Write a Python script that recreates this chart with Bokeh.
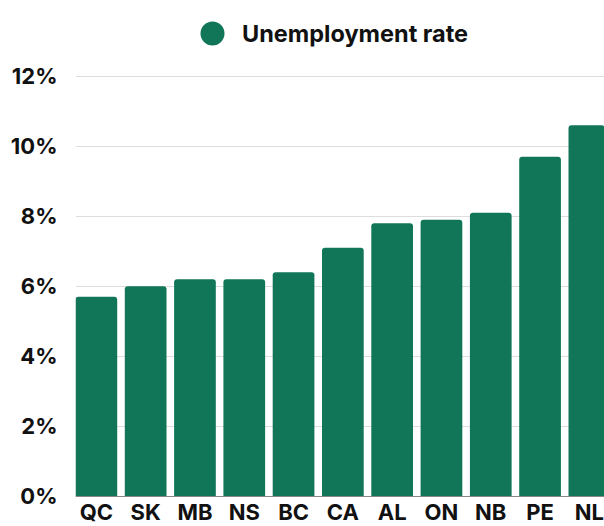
from bokeh.plotting import figure
from bokeh.models import (Range1d, FixedTicker, PrintfTickFormatter, Legend, LegendItem,
                          ColumnDataSource)
from bokeh.embed import file_html
from bokeh.resources import INLINE

provinces = ["QC", "SK", "MB", "NS", "BC", "CA", "AL", "ON", "NB", "PE", "NL"]
unemployment_rate = [5.7, 6.0, 6.2, 6.2, 6.4, 7.1, 7.8, 7.9, 8.1, 9.7, 10.6]
y_ticks = [0, 2, 4, 6, 8, 10, 12]
series_name = "Unemployment rate"

GREEN = "#117658"
FONT = "Inter"

idx = list(range(len(provinces)))
src = ColumnDataSource(dict(x=idx, top=unemployment_rate, name=provinces))

p = figure(width=604, height=526, output_backend="svg", toolbar_location=None,
           x_range=Range1d(-0.423, len(provinces) - 0.693), y_range=Range1d(-0.866, 14.163),
           min_border_left=75, min_border_right=0, min_border_top=0, min_border_bottom=0)
p.outline_line_color = None
p.background_fill_color = "white"
p.border_fill_color = "white"

r = p.vbar(x="x", top="top", width=0.846, source=src, fill_color=GREEN, line_color=None,
           border_radius=(3, 3, 0, 0))

# x axis (pinned at 0%)
p.xaxis.fixed_location = 0
p.xaxis.ticker = FixedTicker(ticks=idx)
p.xaxis.major_label_overrides = {i: n for i, n in zip(idx, provinces)}
p.xaxis.major_tick_line_color = None
p.xaxis.minor_tick_line_color = None
p.xaxis.major_tick_out = 0
p.xaxis.major_tick_in = 0
p.xaxis.axis_line_color = "#888888"
p.xaxis.major_label_text_font = FONT
p.xaxis.major_label_text_font_style = "bold"
p.xaxis.major_label_text_font_size = "22px"
p.xaxis.major_label_text_color = "#111111"
p.xaxis.major_label_standoff = 3
p.xgrid.grid_line_color = None

# y axis
p.yaxis.ticker = FixedTicker(ticks=y_ticks)
p.yaxis.formatter = PrintfTickFormatter(format="%d%%")
p.yaxis.axis_line_color = None
p.yaxis.major_tick_line_color = None
p.yaxis.minor_tick_line_color = None
p.yaxis.major_tick_out = 0
p.yaxis.major_tick_in = 0
p.yaxis.major_label_text_font = FONT
p.yaxis.major_label_text_font_style = "bold"
p.yaxis.major_label_text_font_size = "22px"
p.yaxis.major_label_text_color = "#111111"
p.yaxis.major_label_standoff = 18
p.ygrid.grid_line_color = "#dddddd"
p.ygrid.grid_line_width = 1

# legend
dummy = p.scatter(x=[0], y=[-5], size=24, marker="circle", fill_color=GREEN, line_color=None)
legend = Legend(items=[LegendItem(label=series_name, renderers=[dummy])],
                location=(107, 463), orientation="horizontal",
                glyph_width=60, glyph_height=60, label_standoff=0,
                label_text_font=FONT, label_text_font_style="bold",
                label_text_font_size="23.5px", label_text_color="#111111",
                border_line_color=None, background_fill_alpha=0,
                padding=0, margin=0)
p.add_layout(legend, "center")

open("out.html", "w").write(file_html(p, INLINE))
